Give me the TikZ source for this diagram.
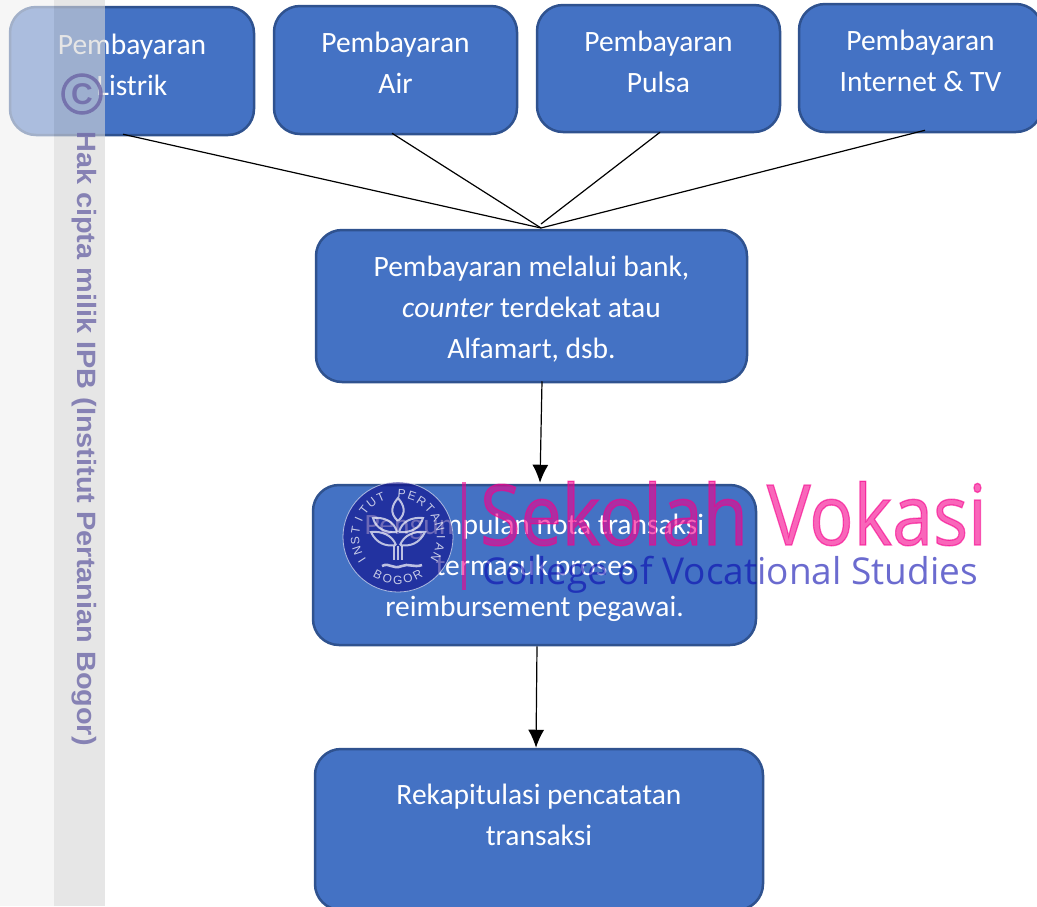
\documentclass[tikz,border=0pt]{standalone}
\usepackage{fontspec}
\setmainfont{Carlito}
\newfontfamily\wmfont{Liberation Sans}
\newfontfamily\skfont{Open Sans}
\newfontfamily\skbold[FakeBold=1.6]{Open Sans}
\usetikzlibrary{calc,arrows.meta}
\definecolor{boxfill}{HTML}{4472C4}
\definecolor{boxline}{HTML}{2F528F}
\definecolor{wmtext}{HTML}{6F69A8}
\definecolor{pinkwm}{HTML}{F5008C}
\definecolor{bluewm}{HTML}{0808AF}
\definecolor{logoblue}{HTML}{0C0889}
\newcommand\lines[1]{\begin{tabular}{@{}c@{}}#1\end{tabular}}
\tikzset{
  flowbox/.style={draw=boxline,line width=2.5pt,fill=boxfill,rounded corners=26pt,text=white,inner sep=0pt,
    font=\fontsize{29.5}{41}\selectfont},
  link/.style={draw=black,line width=1.2pt},
  flowarrow/.style={link,-{Latex[length=18pt,width=16pt]}},
  logotxt/.style={text=white,opacity=.75,inner sep=0pt,font=\wmfont\fontsize{12}{12}\selectfont},
  logoline/.style={draw=white,opacity=.7,line width=2pt,fill=none},
}
\begin{document}
\begin{tikzpicture}[x=1pt,y=-1pt]
\useasboundingbox (0,0) rectangle (1037,906);
\clip (0,0) rectangle (1037,906);
% flow boxes
\node[flowbox,minimum width=244pt,minimum height=128pt] (listrik) at (132,71) {\lines{Pembayaran\\Listrik\\[8pt]}};
\node[flowbox,minimum width=243pt,minimum height=128pt] (air) at (395.5,70) {\lines{Pembayaran\\Air\\[10pt]}};
\node[flowbox,minimum width=243pt,minimum height=127pt] (pulsa) at (658.5,68.5) {\lines{Pembayaran\\Pulsa\\[10pt]}};
\node[flowbox,minimum width=243pt,minimum height=128pt] (internet) at (920.5,68) {\lines{Pembayaran\\Internet \& TV\\[10pt]}};
\node[flowbox,minimum width=431pt,minimum height=152pt] (bank) at (531.5,306) {\lines{\rule{0pt}{34.7pt}Pembayaran melalui bank,\\\textit{counter} terdekat atau\\Alfamart, dsb.}};
\node[flowbox,minimum width=443pt,minimum height=160pt] (nota) at (534.5,565) {\lines{\rule{0pt}{32.7pt}Pengumpulan nota transaksi\\termasuk proses\\reimbursement pegawai.}};
\node[flowbox,minimum width=448pt,minimum height=161pt] (rekap) at (539,829.5) {\lines{Rekapitulasi pencatatan\\transaksi\\[26pt]}};
% connectors
\coordinate (hub) at (541,228);
\coordinate (hubb) at (541,224);
\draw[link] ($(listrik.south)+(-9,-2)$) -- (hub);
\draw[link] ($(air.south)+(-3.5,-2)$) -- (hub);
\draw[link] ($(pulsa.south)+(1.5,-1)$) -- (hubb);
\draw[link] ($(internet.south)+(4.5,-3)$) -- (hub);
\draw[flowarrow] ($(bank.south)+(10.5,-2)$) -- ($(nota.north)+(5.5,-1)$);
\draw[flowarrow] ($(nota.south)+(2.5,0)$) -- ($(rekap.north)+(-3,0)$);
% side watermark
\fill[fill={rgb,255:red,240;green,240;blue,240},opacity=.6] (0,0) rectangle (54,906);
\fill[fill={rgb,255:red,214;green,214;blue,214},opacity=.61] (54,0) rectangle (105,906);
\node[draw=wmtext,opacity=.85,line width=3.5pt,circle,minimum size=38pt,inner sep=0pt,text=wmtext,font=\wmfont\bfseries\fontsize{30}{30}\selectfont] (copyr) at (82,94) {C};
\node[rotate=-90,text=wmtext,opacity=.8,inner sep=0pt,xscale=1.09,font=\wmfont\bfseries\fontsize{26.5}{26.5}\selectfont] (hakcipta) at (84,438.5) {Hak cipta milik IPB (Institut Pertanian Bogor)};
% logo
\begin{scope}[shift={(398,537)},x=1pt,y=1pt]
\fill[logoblue,opacity=.6] (0,0) circle (55);
\draw[white,opacity=.6,line width=.8pt] (0,0) circle (55);
\foreach \c [count=\i from 0] in {I,N,S,T,I,T,U,T,{},P,E,R,T,A,N,I,A,N}{
  \pgfmathsetmacro\ang{213-\i*14.2}
  \node[logotxt,rotate=\ang-90] at (\ang:43) {\c};
}
\foreach \c [count=\i from 0] in {B,O,G,O,R}{
  \pgfmathsetmacro\ang{242+\i*13.8}
  \node[logotxt,rotate=\ang+90] at (\ang:43) {\c};
}
\draw[logoline] (0,16) .. controls (-9,24) and (-6,32) .. (0,39) .. controls (6,32) and (9,24) .. (0,16);
\draw[logoline] (-1,5) .. controls (-4,16) and (-14,20) .. (-25,19) .. controls (-22,8) and (-12,4) .. (-1,5);
\draw[logoline] (1,5) .. controls (4,16) and (14,20) .. (25,19) .. controls (22,8) and (12,4) .. (1,5);
\draw[logoline] (-2,-8) .. controls (-6,2) and (-16,6) .. (-27,5) .. controls (-22,-6) and (-12,-10) .. (-2,-8);
\draw[logoline] (2,-8) .. controls (6,2) and (16,6) .. (27,5) .. controls (22,-6) and (12,-10) .. (2,-8);
\draw[logoline] (-4,-9) -- (-4,-23);
\draw[logoline] (0,-9) -- (0,-23);
\draw[logoline] (4,-9) -- (4,-23);
\draw[logoline,line width=2.6pt] (-16,-29) .. controls (-8,-25) and (-6,-33) .. (4,-29) .. controls (10,-26) and (16,-31) .. (24,-28);
\end{scope}
% Sekolah Vokasi watermark
\fill[pinkwm,opacity=.6] (461.5,482) rectangle (466,590);
\node[anchor=base west,inner sep=0pt,text=pinkwm,text opacity=.6,xscale=.875,font=\skbold\fontsize{84}{84}\selectfont] (sekolah) at (480,545) {Sekolah Vokasi};
\node[anchor=base west,inner sep=0pt,text=bluewm,text opacity=.6,font=\skfont\fontsize{37}{37}\selectfont] (college) at (482,584) {College of Vocational Studies};
\end{tikzpicture}
\end{document}
